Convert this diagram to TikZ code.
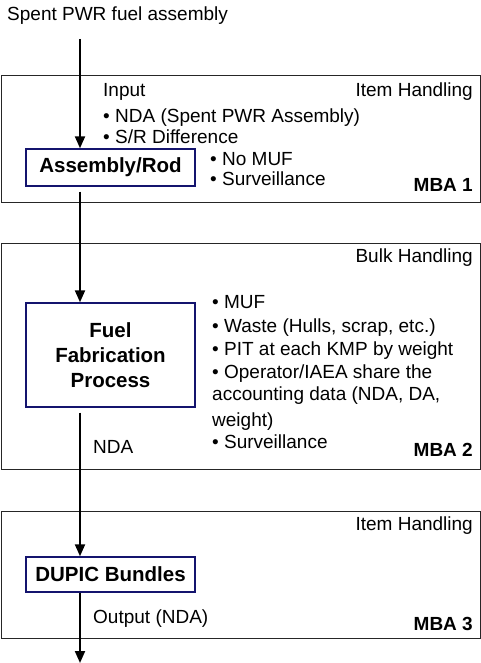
\documentclass[tikz,border=0pt]{standalone}
\usepackage{fontspec}
\setmainfont{Liberation Sans}
\usetikzlibrary{arrows.meta}
\begin{document}
\begin{tikzpicture}[x=1pt,y=-1pt,
  txt/.style={inner sep=0pt,anchor=base west,font=\fontsize{19}{22}\selectfont},
  txtr/.style={inner sep=0pt,anchor=base east,font=\fontsize{19}{22}\selectfont},
  mbalab/.style={inner sep=0pt,anchor=base east,font=\fontsize{19}{22}\selectfont\bfseries},
  mba/.style={draw=black!85,line width=1.4pt,anchor=north west,minimum width=479pt,inner sep=0pt},
  proc/.style={draw={rgb,255:red,20;green,20;blue,110},line width=1.4pt,minimum width=169pt,inner sep=0pt,align=center,font=\fontsize{20.5}{25}\selectfont\bfseries},
  flow/.style={line width=2pt,-{Triangle[width=10pt,length=12pt]}},
  link/.style={line width=2pt}]
\useasboundingbox (0,0) rectangle (481,663);
% MBA containers
\node[mba,minimum height=127pt] (mba1) at (1,75) {};
\node[mba,minimum height=226pt] (mba2) at (1,243) {};
\node[mba,minimum height=127pt] (mba3) at (1,511) {};
% process boxes
\node[proc,minimum height=37pt] (asm) at (110.5,167.5) {Assembly/Rod};
\node[proc,minimum height=104pt] (fuel) at (110.5,355) {Fuel\\Fabrication\\Process};
\node[proc,minimum height=35pt] (dupic) at (110.5,574.5) {DUPIC Bundles};
% top label
\node[txt] (spent) at (7,20.5) {Spent PWR fuel assembly};
\coordinate (s0) at (80,39);
\coordinate (s1) at (80,663);
% MBA 1 texts
\node[txt] (in) at (103,97) {Input};
\node[txtr] (ih1) at (473,97) {Item Handling};
\node[txt] (b11) at (103,123) {• NDA (Spent PWR Assembly)};
\node[txt] (b12) at (103,143.5) {• S/R Difference};
\node[txt] (b13) at (210,165) {• No MUF};
\node[txt] (b14) at (210,185.5) {• Surveillance};
\node[mbalab] (m1) at (473,191.5) {MBA 1};
% MBA 2 texts
\node[txtr] (bh) at (473,262) {Bulk Handling};
\node[txt] (b21) at (212,308.5) {• MUF};
\node[txt] (b22) at (212,332) {• Waste (Hulls, scrap, etc.)};
\node[txt] (b23) at (212,355) {• PIT at each KMP by weight};
\node[txt] (b24) at (212,378.5) {• Operator/IAEA share the};
\node[txt] (b25) at (212,400) {accounting data (NDA, DA,};
\node[txt] (b26) at (212,426) {weight)};
\node[txt] (b27) at (212,448.5) {• Surveillance};
\node[txt] (nda) at (93,453) {NDA};
\node[mbalab] (m2) at (473,456) {MBA 2};
% MBA 3 texts
\node[txtr] (ih3) at (473,530) {Item Handling};
\node[txt] (out) at (93,623.5) {Output (NDA)};
\node[mbalab] (m3) at (473,630) {MBA 3};
% flow
\draw[flow] (s0) -- (s0 |- asm.north);
\draw[flow,shorten <=5pt] (s0 |- asm.south) -- (s0 |- fuel.north);
\draw[flow,shorten <=5pt] (s0 |- fuel.south) -- (s0 |- dupic.north);
\draw[flow] (s0 |- dupic.south) -- (s1);
\end{tikzpicture}
\end{document}
